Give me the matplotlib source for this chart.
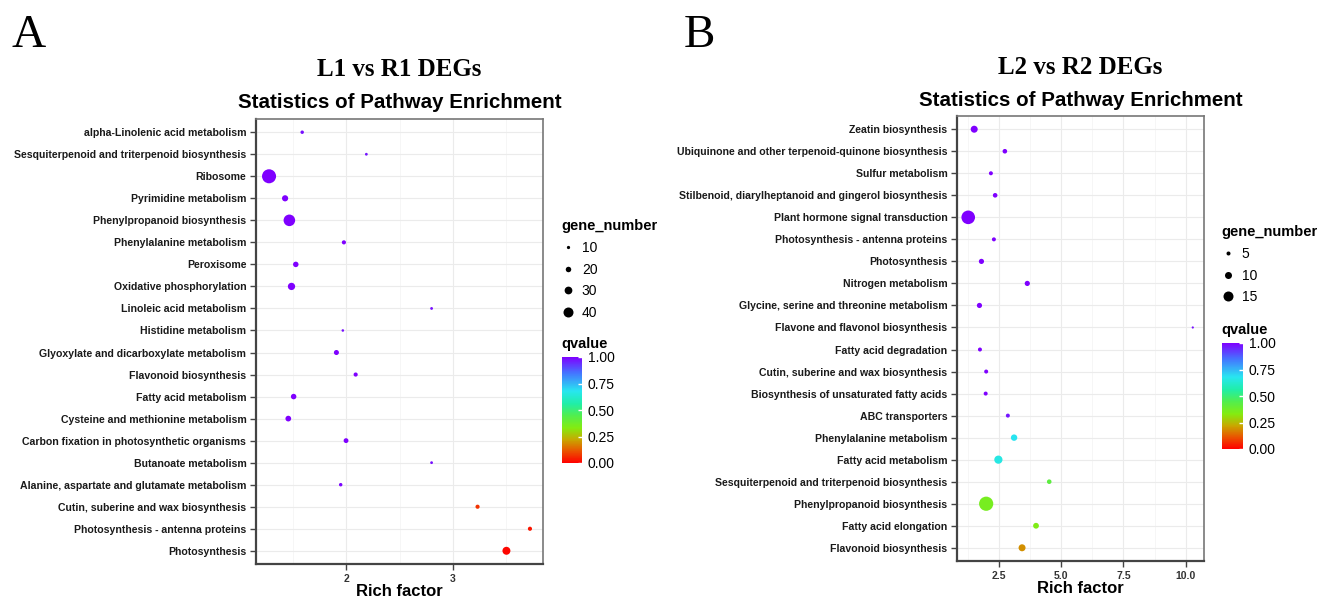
import numpy as np
import matplotlib
matplotlib.use("Agg")
import matplotlib.pyplot as plt
from matplotlib.colors import LinearSegmentedColormap
from matplotlib.lines import Line2D

# ---- panel A : L1 vs R1 DEGs (terms listed top to bottom) ----
a_terms = ["alpha-Linolenic acid metabolism",
           "Sesquiterpenoid and triterpenoid biosynthesis",
           "Ribosome",
           "Pyrimidine metabolism",
           "Phenylpropanoid biosynthesis",
           "Phenylalanine metabolism",
           "Peroxisome",
           "Oxidative phosphorylation",
           "Linoleic acid metabolism",
           "Histidine metabolism",
           "Glyoxylate and dicarboxylate metabolism",
           "Flavonoid biosynthesis",
           "Fatty acid metabolism",
           "Cysteine and methionine metabolism",
           "Carbon fixation in photosynthetic organisms",
           "Butanoate metabolism",
           "Alanine, aspartate and glutamate metabolism",
           "Cutin, suberine and wax biosynthesis",
           "Photosynthesis - antenna proteins",
           "Photosynthesis"]
a_rich = [1.59, 2.19, 1.28, 1.43, 1.47, 1.98, 1.53, 1.49, 2.80, 1.97,
          1.91, 2.09, 1.51, 1.46, 2.00, 2.80, 1.95, 3.23, 3.72, 3.50]
a_genes = [11, 8, 58, 23, 47, 14, 20, 28, 8, 7,
           18, 14, 20, 21, 17, 8, 11, 14, 14, 31]
a_q = [0.98, 0.97, 1.00, 1.00, 1.00, 1.00, 1.00, 1.00, 0.98, 0.98,
       1.00, 1.00, 1.00, 1.00, 1.00, 0.98, 0.99, 0.07, 0.03, 0.01]
a_size_breaks = [10, 20, 30, 40]
a_xticks = [2, 3]
a_xticklabels = ["2", "3"]

# ---- panel B : L2 vs R2 DEGs ----
b_terms = ["Zeatin biosynthesis",
           "Ubiquinone and other terpenoid-quinone biosynthesis",
           "Sulfur metabolism",
           "Stilbenoid, diarylheptanoid and gingerol biosynthesis",
           "Plant hormone signal transduction",
           "Photosynthesis - antenna proteins",
           "Photosynthesis",
           "Nitrogen metabolism",
           "Glycine, serine and threonine metabolism",
           "Flavone and flavonol biosynthesis",
           "Fatty acid degradation",
           "Cutin, suberine and wax biosynthesis",
           "Biosynthesis of unsaturated fatty acids",
           "ABC transporters",
           "Phenylalanine metabolism",
           "Fatty acid metabolism",
           "Sesquiterpenoid and triterpenoid biosynthesis",
           "Phenylpropanoid biosynthesis",
           "Fatty acid elongation",
           "Flavonoid biosynthesis"]
b_rich = [1.51, 2.74, 2.18, 2.35, 1.27, 2.30, 1.80, 3.64, 1.72, 10.28,
          1.74, 1.99, 1.97, 2.86, 3.11, 2.48, 4.52, 1.99, 3.99, 3.43]
b_genes = [10, 6, 5, 6, 21, 5, 7, 7, 7, 2,
           5, 5, 5, 5, 9, 12, 6, 22, 8, 10]
b_q = [1.00, 1.00, 1.00, 1.00, 1.00, 1.00, 1.00, 1.00, 1.00, 0.98,
       1.00, 1.00, 1.00, 0.97, 0.68, 0.66, 0.42, 0.36, 0.34, 0.19]
b_size_breaks = [5, 10, 15]
b_xticks = [2.5, 5.0, 7.5, 10.0]
b_xticklabels = ["2.5", "5.0", "7.5", "10.0"]

q_ticks = [0, 0.25, 0.5, 0.75, 1.0]
q_ticklabels = ["0.00", "0.25", "0.50", "0.75", "1.00"]

W, H = 1321, 600
fig = plt.figure(figsize=(W / 100, H / 100), dpi=100)

qcmap = LinearSegmentedColormap.from_list("qrainbow", [
    (0.00, "#FF0000"), (0.12, "#E85A00"), (0.22, "#C8A800"),
    (0.33, "#84EC10"), (0.45, "#50EE50"), (0.56, "#20EEA8"),
    (0.68, "#28E6F0"), (0.85, "#4474FF"), (1.00, "#7F00FF")])

sans = "Liberation Sans"


def px_box(l, t, r, b):
    return [l / W, 1 - b / H, (r - l) / W, (b - t) / H]


def diam_px(genes, k):
    # dot diameter in pixels for a gene count
    return 1.0 + k * np.asarray(genes, dtype=float)


def panel(box, terms, rich, genes, q, k, xticks, xticklabels,
          title, letter, letter_xy, title_y, cbar_box, leg_xy, qtitle_xy, breaks):
    ax = fig.add_axes(px_box(*box))
    n = len(terms)
    y = np.arange(n, 0, -1)
    rich = np.array(rich)
    lo, hi = rich.min(), rich.max()
    pad = 0.05 * (hi - lo)
    ax.set_xlim(lo - pad, hi + pad)
    ax.set_ylim(0.4, n + 0.6)

    # grid like theme_bw
    step = xticks[1] - xticks[0]
    minors = np.arange(xticks[0] - step / 2, hi + pad, step)
    for xm in minors:
        ax.axvline(xm, color="#F3F3F3", lw=0.5, zorder=0)
    for xt in xticks:
        ax.axvline(xt, color="#EBEBEB", lw=0.8, zorder=0)
    for yy in y:
        ax.axhline(yy, color="#EBEBEB", lw=0.8, zorder=0)

    sc = ax.scatter(rich, y, s=(diam_px(genes, k) * 0.72) ** 2, c=q,
                    cmap=qcmap, vmin=0, vmax=1, edgecolors="none", zorder=3)

    ax.set_yticks(y)
    ax.set_yticklabels(terms, fontfamily=sans, fontweight="bold",
                       fontsize=7.6, color="#1a1a1a")
    ax.set_xticks(xticks)
    ax.set_xticklabels(xticklabels, fontfamily=sans, fontweight="bold",
                       fontsize=7.5, color="#333333")
    ax.tick_params(length=4, width=1, color="#444444", pad=3)
    for side in ["top", "right"]:
        ax.spines[side].set_color("#777777")
        ax.spines[side].set_linewidth(1.2)
    for side in ["left", "bottom"]:
        ax.spines[side].set_color("#444444")
        ax.spines[side].set_linewidth(1.6)
    ax.set_xlabel("Rich factor", fontfamily=sans, fontweight="bold",
                  fontsize=12, labelpad=0)

    cx = (box[0] + box[2]) / 2 / W
    fig.text(cx, 1 - title_y[0] / H, title, ha="center", va="center",
             fontfamily="Liberation Serif", fontweight="bold", fontsize=18)
    fig.text(cx, 1 - title_y[1] / H, "Statistics of Pathway Enrichment",
             ha="center", va="center", fontfamily=sans, fontweight="bold",
             fontsize=14.8)
    fig.text(letter_xy[0] / W, 1 - letter_xy[1] / H, letter, ha="left",
             va="center", fontfamily="Liberation Serif", fontsize=34)

    # size legend
    handles = [Line2D([], [], ls="", marker="o", color="black", mec="none",
                      markersize=diam_px(b, k) * 0.72) for b in breaks]
    ax.legend(handles, [str(b) for b in breaks], title="gene_number",
              loc="upper left", bbox_to_anchor=(leg_xy[0] / W, 1 - leg_xy[1] / H),
              bbox_transform=fig.transFigure, frameon=False,
              borderpad=0, borderaxespad=0, handlelength=1.0,
              handletextpad=0.5, labelspacing=0.56, alignment="left",
              prop={"family": sans, "size": 10},
              title_fontproperties={"family": sans, "weight": "bold", "size": 10.5})

    # colour bar
    cax = fig.add_axes(px_box(*cbar_box))
    cb = fig.colorbar(sc, cax=cax, ticks=q_ticks)
    cb.set_ticklabels(q_ticklabels)
    cb.outline.set_visible(False)
    cax.tick_params(length=3, width=1, color="white", direction="in",
                    labelsize=10, pad=4)
    for t in cax.get_yticklabels():
        t.set_fontfamily(sans)
    fig.text(qtitle_xy[0] / W, 1 - qtitle_xy[1] / H, "qvalue", ha="left",
             va="center", fontfamily=sans, fontweight="bold", fontsize=10.5)
    return ax


panel((256, 119, 543, 564), a_terms, a_rich, a_genes, a_q, 0.225,
      a_xticks, a_xticklabels, "L1 vs R1 DEGs", "A", (12, 36), (69, 103),
      (562, 357, 582, 463), (561, 219), (561, 344), a_size_breaks)

panel((957, 116, 1204, 561), b_terms, b_rich, b_genes, b_q, 0.6,
      b_xticks, b_xticklabels, "L2 vs R2 DEGs", "B", (684, 36), (68, 100),
      (1222, 343, 1243, 449), (1221, 225), (1221, 330), b_size_breaks)

fig.savefig("out.png", dpi=100)
